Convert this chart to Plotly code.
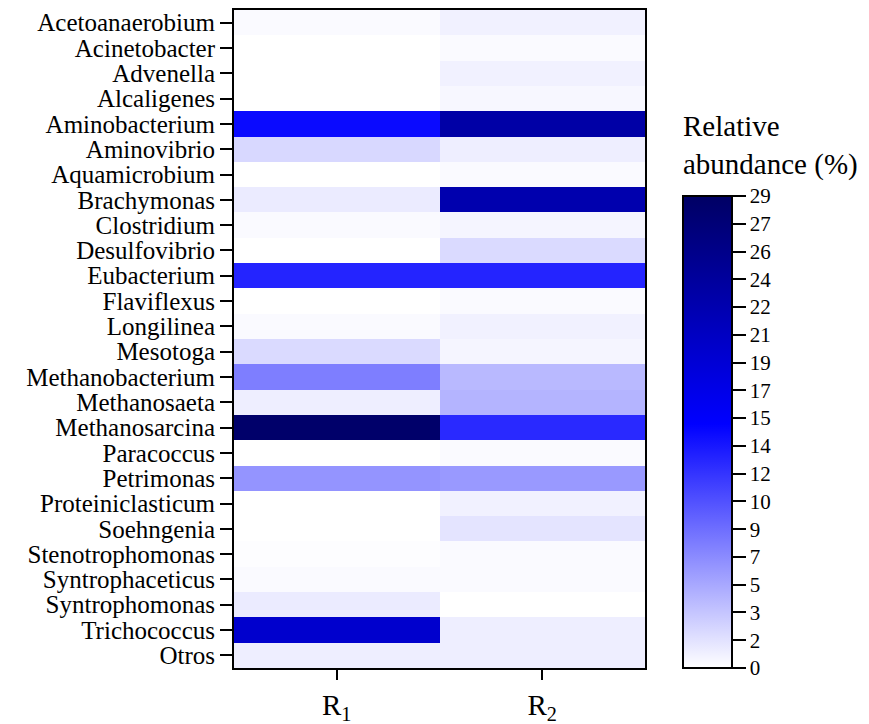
import plotly.graph_objects as go

genera = ["Acetoanaerobium", "Acinetobacter", "Advenella", "Alcaligenes", "Aminobacterium",
          "Aminovibrio", "Aquamicrobium", "Brachymonas", "Clostridium", "Desulfovibrio",
          "Eubacterium", "Flaviflexus", "Longilinea", "Mesotoga", "Methanobacterium",
          "Methanosaeta", "Methanosarcina", "Paracoccus", "Petrimonas", "Proteiniclasticum",
          "Soehngenia", "Stenotrophomonas", "Syntrophaceticus", "Syntrophomonas",
          "Trichococcus", "Otros"]
samples = ["R1", "R2"]
sample_labels = ["R<sub>1</sub>", "R<sub>2</sub>"]

r1 = [0.3, 0.0, 0.0, 0.0, 14.4, 2.3, 0.0, 1.2, 0.3, 0.0,
      12.9, 0.0, 0.3, 2.2, 7.6, 1.0, 28.5, 0.0, 6.3, 0.0,
      0.0, 0.1, 0.3, 1.2, 19.5, 1.0]
r2 = [0.8, 0.3, 0.8, 0.5, 23.0, 1.0, 0.3, 22.3, 0.6, 2.2,
      12.9, 0.3, 0.8, 0.6, 4.1, 4.4, 12.6, 0.3, 6.0, 0.8,
      1.6, 0.3, 0.3, 0.0, 1.0, 1.0]

cb_ticktext = ["0", "2", "3", "5", "7", "9", "10", "12", "14", "15",
               "17", "19", "21", "22", "24", "26", "27", "29"]
zmax = 29.0
cb_tickvals = [zmax * k / (len(cb_ticktext) - 1) for k in range(len(cb_ticktext))]

z = [[a, b] for a, b in zip(r1, r2)]

font = "Times New Roman, Tinos, Liberation Serif, DejaVu Serif, serif"

fig = go.Figure(go.Heatmap(
    z=z, x=samples, y=genera,
    zmin=0, zmax=zmax,
    colorscale=[[0, "rgb(255,255,255)"], [15 / 29, "rgb(0,0,255)"], [1, "rgb(0,0,100)"]],
    xgap=0, ygap=0,
    colorbar=dict(
        x=(683 - 234) / 411, xanchor="left", xref="paper",
        y=0, yanchor="bottom", len=(668 - 196) / 658, lenmode="fraction",
        thickness=49, thicknessmode="pixels",
        outlinewidth=2, outlinecolor="black",
        tickmode="array", tickvals=cb_tickvals, ticktext=cb_ticktext,
        ticks="outside", ticklen=13, tickwidth=1.5, tickcolor="black",
        tickfont=dict(family=font, size=21, color="black"),
        xpad=0, ypad=0,
    ),
))

fig.add_annotation(
    text="Relative<br>abundance (%)", xref="paper", yref="paper",
    x=(681 - 234) / 411, y=(668 - 183) / 658, xanchor="left", yanchor="bottom",
    align="left", showarrow=False,
    font=dict(family=font, size=29, color="black"),
)

fig.update_xaxes(
    tickmode="array", tickvals=samples, ticktext=sample_labels,
    showline=True, linecolor="black", linewidth=2, mirror=True,
    ticks="outside", ticklen=10, tickwidth=2, tickcolor="black",
    automargin=False,
    tickfont=dict(family=font, size=29, color="black"),
    showgrid=False, zeroline=False,
)
fig.update_yaxes(
    tickmode="array", tickvals=genera, ticktext=genera,
    autorange="reversed", automargin=False,
    showline=True, linecolor="black", linewidth=2, mirror=True,
    ticks="outside", ticklen=12, tickwidth=2, tickcolor="black",
    tickfont=dict(family=font, size=25, color="black"),
    showgrid=False, zeroline=False,
)

fig.update_layout(
    width=869, height=724,
    margin=dict(l=234, r=224, t=10, b=56),
    paper_bgcolor="white", plot_bgcolor="white",
    font=dict(family=font, color="black"),
)

fig.write_html("out.html")
